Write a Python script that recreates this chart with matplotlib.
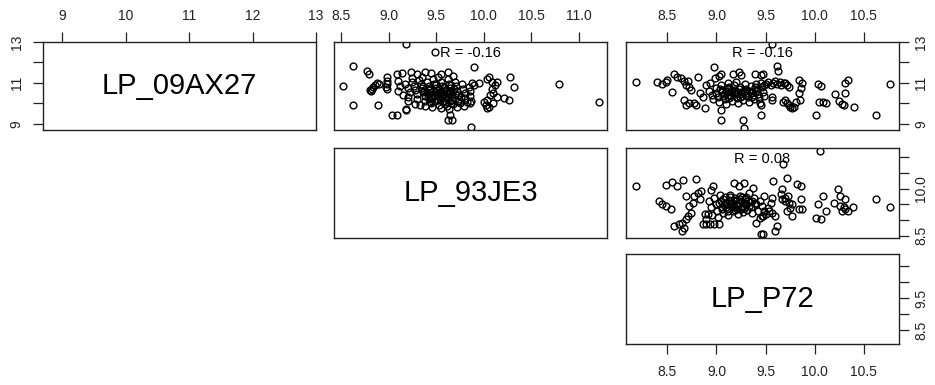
import numpy as np
import matplotlib.pyplot as plt

plt.rcParams['font.family'] = ['Liberation Sans', 'DejaVu Sans']

# variable names on the diagonal
var_names = ['LP_09AX27', 'LP_93JE3', 'LP_P72']
r_labels = ['R = -0.16', 'R = -0.16', 'R = 0.08']

# x = LP_93JE3, y = LP_09AX27
pts_93_09 = [
    (9.18, 12.90), (9.49, 12.52), (8.63, 11.82), (8.77, 11.59), (8.79, 11.42), (8.52, 10.86),
    (8.63, 9.92), (8.89, 9.92), (8.88, 11.01), (8.86, 10.90), (8.84, 10.82), (8.83, 10.72),
    (8.82, 10.62), (8.90, 10.95), (8.80, 10.66), (8.98, 11.30), (8.98, 11.11), (8.98, 10.93),
    (8.98, 10.70), (8.97, 10.82), (9.04, 9.43), (9.09, 9.43), (9.18, 9.71), (9.18, 9.66),
    (9.09, 11.46), (9.14, 11.50), (9.23, 11.55), (9.30, 11.46), (9.38, 11.55), (9.45, 11.48),
    (9.55, 11.44), (9.62, 11.55), (9.68, 11.35), (9.52, 11.30), (9.35, 11.30), (9.25, 11.25),
    (9.10, 11.10), (9.12, 10.85), (9.10, 10.60), (9.15, 10.40), (9.17, 10.95), (9.20, 10.75),
    (9.22, 10.55), (9.20, 10.30), (9.25, 11.05), (9.27, 10.85), (9.28, 10.65), (9.30, 10.45),
    (9.30, 10.20), (9.32, 11.15), (9.34, 10.95), (9.35, 10.75), (9.36, 10.55), (9.38, 10.35),
    (9.38, 10.10), (9.40, 11.05), (9.42, 10.85), (9.42, 10.65), (9.44, 10.45), (9.45, 10.25),
    (9.45, 10.00), (9.47, 11.20), (9.48, 10.95), (9.50, 10.75), (9.50, 10.55), (9.52, 10.35),
    (9.52, 10.15), (9.53, 9.90), (9.55, 11.05), (9.56, 10.85), (9.57, 10.65), (9.58, 10.45),
    (9.59, 10.25), (9.60, 10.05), (9.61, 9.85), (9.62, 11.20), (9.63, 10.95), (9.64, 10.75),
    (9.65, 10.55), (9.66, 10.35), (9.67, 10.15), (9.68, 9.95), (9.70, 11.05), (9.71, 10.85),
    (9.72, 10.60), (9.73, 10.40), (9.74, 10.20), (9.75, 10.00), (9.77, 10.95), (9.78, 10.70),
    (9.80, 10.50), (9.80, 10.25), (9.82, 10.05), (9.84, 10.80), (9.85, 10.60), (9.86, 10.35),
    (9.40, 10.55), (9.47, 10.60), (9.53, 10.50), (9.60, 10.62), (9.48, 10.40), (9.56, 10.30),
    (9.63, 10.45), (9.42, 10.20), (9.58, 10.82), (9.66, 10.90), (9.36, 10.85), (9.50, 10.95),
    (9.70, 10.45), (9.76, 10.30), (9.44, 10.70), (9.20, 10.10), (9.28, 9.98), (9.38, 9.85),
    (9.46, 9.80), (9.55, 9.76), (9.63, 9.72), (9.72, 9.80), (9.79, 9.86), (9.33, 9.90),
    (9.46, 10.35), (9.54, 10.22), (9.61, 10.38), (9.68, 10.28), (9.49, 10.12), (9.57, 10.05),
    (9.64, 10.12), (9.41, 10.45), (9.55, 10.62), (9.62, 10.52), (9.69, 10.68), (9.51, 10.45),
    (9.43, 10.08), (9.59, 9.95), (9.66, 10.02), (9.73, 10.10), (9.37, 10.62), (9.53, 10.70),
    (9.65, 9.43), (9.62, 9.19), (9.67, 9.19), (9.87, 8.83), (9.90, 11.76), (9.88, 11.00),
    (9.90, 10.90), (9.95, 11.02), (9.87, 10.10), (10.05, 11.30), (10.03, 11.17), (10.09, 11.06),
    (10.14, 11.06), (10.12, 10.89), (10.28, 11.27), (10.32, 10.81), (10.09, 10.68), (10.10, 10.49),
    (10.07, 10.41), (10.14, 10.33), (10.21, 10.24), (10.26, 10.16), (10.03, 10.16), (10.00, 10.08),
    (10.02, 9.92), (10.05, 9.84), (10.10, 10.00), (10.03, 9.76), (9.86, 10.00), (10.79, 10.94),
    (11.21, 10.05),
]

# x = LP_P72, y = LP_09AX27
pts_p72_09 = [
    (8.18, 11.03), (8.40, 11.03), (8.45, 10.93), (8.49, 11.06), (8.50, 11.14), (8.55, 10.54),
    (8.57, 11.42), (8.60, 11.30), (8.64, 11.22), (8.67, 11.11), (8.71, 11.11), (8.69, 10.90),
    (8.72, 10.81), (8.74, 10.65), (8.81, 11.27), (8.67, 10.16), (8.69, 9.92), (8.72, 10.00),
    (8.77, 10.00), (8.79, 9.92), (8.83, 10.49), (8.86, 10.33), (8.88, 9.76), (8.89, 10.90),
    (8.93, 10.98), (8.98, 11.79), (9.05, 11.46), (9.03, 11.33), (8.99, 11.22), (9.05, 9.68),
    (9.05, 9.19), (9.27, 9.19), (9.28, 8.78), (9.17, 11.46), (9.23, 11.55), (9.25, 11.38),
    (9.20, 11.05), (9.39, 11.46), (9.45, 11.40), (8.92, 10.60), (8.95, 10.40), (8.97, 10.20),
    (9.00, 10.75), (9.00, 10.50), (9.02, 10.30), (9.03, 10.05), (9.05, 10.90), (9.06, 10.65),
    (9.08, 10.45), (9.09, 10.20), (9.10, 9.95), (9.12, 11.00), (9.13, 10.78), (9.14, 10.55),
    (9.15, 10.35), (9.16, 10.12), (9.18, 10.90), (9.19, 10.65), (9.20, 10.45), (9.21, 10.25),
    (9.22, 10.00), (9.24, 10.80), (9.25, 10.58), (9.26, 10.38), (9.27, 10.15), (9.29, 10.95),
    (9.30, 10.70), (9.31, 10.50), (9.32, 10.30), (9.33, 10.05), (9.35, 10.85), (9.36, 10.60),
    (9.37, 10.40), (9.38, 10.20), (9.40, 10.95), (9.41, 10.70), (9.42, 10.48), (9.43, 10.25),
    (9.44, 10.02), (9.46, 10.80), (9.47, 10.55), (9.48, 10.35), (9.10, 10.60), (9.18, 10.50),
    (9.27, 10.55), (9.12, 10.40), (9.23, 10.70), (9.33, 10.60), (9.06, 10.55), (9.40, 10.60),
    (9.04, 10.70), (9.11, 10.75), (9.16, 10.62), (9.21, 10.55), (9.29, 10.62), (9.35, 10.50),
    (9.39, 10.78), (9.07, 10.35), (9.13, 10.28), (9.24, 10.32), (9.30, 10.42), (9.36, 10.30),
    (9.57, 12.90), (9.62, 11.82), (9.63, 11.59), (9.47, 11.42), (9.45, 11.00), (9.50, 10.95),
    (9.55, 10.90), (9.60, 11.10), (9.65, 11.05), (9.69, 10.98), (9.72, 10.90), (9.74, 10.82),
    (9.52, 11.05), (9.58, 10.98), (9.48, 10.92), (9.62, 10.95), (9.66, 10.92), (9.70, 11.02),
    (9.57, 10.33), (9.57, 10.16), (9.45, 9.92), (9.45, 9.43),
    (9.70, 10.16), (9.72, 10.00), (9.74, 9.92), (9.75, 9.84), (9.77, 9.76), (9.79, 9.84),
    (9.81, 10.08), (9.85, 10.16), (9.68, 10.05), (9.84, 11.14), (9.87, 10.98), (9.86, 10.73),
    (9.84, 10.49), (10.03, 10.94), (10.06, 10.86), (10.01, 9.43), (10.04, 10.05), (10.08, 10.05),
    (10.11, 10.00), (10.21, 10.46), (10.34, 11.14), (10.31, 10.98), (10.31, 10.49), (10.25, 10.13),
    (10.28, 9.97), (10.30, 9.92), (10.40, 9.84), (10.62, 9.43), (10.77, 10.93),
]

# x = LP_P72, y = LP_93JE3
pts_p72_93 = [
    (8.18, 10.08), (8.42, 9.60), (8.45, 9.50), (8.49, 9.44), (8.54, 9.34), (8.49, 10.10),
    (8.55, 10.21), (8.60, 10.08), (8.66, 10.26), (8.69, 9.76), (8.72, 9.44), (8.76, 9.55),
    (8.77, 9.76), (8.79, 10.30), (8.81, 9.87), (8.84, 9.92), (8.83, 9.66), (8.57, 8.81),
    (8.62, 8.86), (8.65, 8.91), (8.69, 9.02), (8.65, 8.65), (8.67, 8.76), (8.71, 9.13),
    (8.74, 9.23), (8.86, 8.86), (8.89, 8.86), (8.93, 8.86), (8.98, 8.86), (9.03, 8.86),
    (8.88, 9.18), (8.91, 9.18), (8.89, 9.02), (8.96, 10.08), (8.94, 9.97), (8.92, 9.60),
    (8.94, 9.40), (8.95, 9.15), (8.98, 9.70), (9.00, 9.50), (9.01, 9.30), (9.02, 9.08),
    (9.04, 9.80), (9.05, 9.62), (9.06, 9.42), (9.07, 9.22), (9.09, 9.72), (9.10, 9.55),
    (9.11, 9.35), (9.12, 9.15), (9.14, 9.80), (9.15, 9.62), (9.16, 9.45), (9.17, 9.28),
    (9.19, 9.70), (9.20, 9.52), (9.21, 9.36), (9.22, 9.20), (9.24, 9.78), (9.25, 9.60),
    (9.26, 9.42), (9.27, 9.25), (9.29, 9.68), (9.30, 9.50), (9.31, 9.33), (9.33, 9.85),
    (9.34, 9.58), (9.35, 9.40), (9.36, 9.22), (9.38, 9.70), (9.40, 9.50), (9.42, 9.30),
    (9.44, 9.62), (9.46, 9.45), (9.48, 9.75), (9.08, 9.48), (9.13, 9.65), (9.18, 9.40),
    (9.23, 9.55), (9.28, 9.38), (9.12, 9.30), (9.20, 9.65), (9.26, 9.72), (9.32, 9.62),
    (9.16, 9.55), (9.03, 9.55), (9.07, 9.68), (9.10, 9.42), (9.14, 9.52), (9.18, 9.60),
    (9.22, 9.45), (9.24, 9.66), (9.28, 9.55), (9.30, 9.72), (9.33, 9.45), (9.36, 9.62),
    (9.19, 9.32), (9.25, 9.35), (9.14, 9.72), (9.06, 9.35), (9.39, 9.55),
    (9.18, 10.19), (9.23, 10.08), (9.28, 10.19), (9.37, 10.03), (9.40, 8.91),
    (9.44, 9.07), (9.47, 9.13), (9.47, 8.54), (10.05, 11.20), (9.68, 10.77), (9.58, 10.24),
    (9.72, 10.33), (9.82, 10.14), (9.86, 10.08), (9.67, 9.98), (9.66, 9.82), (9.67, 9.66),
    (9.70, 9.60), (9.74, 9.55), (9.77, 9.50), (9.75, 9.39), (9.72, 9.29), (9.70, 9.70),
    (9.73, 9.75), (9.86, 9.66), (9.87, 9.34), (9.84, 9.34), (9.77, 9.13), (9.57, 9.71),
    (9.55, 9.55), (9.52, 9.39), (9.48, 9.29), (9.46, 9.13), (9.57, 9.23), (9.60, 9.13),
    (9.62, 8.81), (9.60, 8.65), (9.50, 9.20), (9.53, 9.30), (9.45, 8.54), (10.03, 9.50),
    (10.08, 9.76), (10.01, 9.07), (10.06, 9.02), (10.11, 9.29), (10.20, 9.53), (10.24, 9.98),
    (10.26, 9.77), (10.31, 9.66), (10.26, 9.45), (10.30, 9.40), (10.31, 9.34), (10.28, 9.29),
    (10.34, 9.29), (10.39, 9.40), (10.62, 9.68), (10.77, 9.41),
]

# axis limits and ticks for each variable
limits = {'LP_09AX27': (8.70, 13.0), 'LP_93JE3': (8.426, 11.295), 'LP_P72': (8.08, 10.857)}
ticks = {
    'LP_09AX27': [9, 10, 11, 12, 13],
    'LP_93JE3': [8.5, 9.0, 9.5, 10.0, 10.5, 11.0],
    'LP_P72': [8.5, 9.0, 9.5, 10.0, 10.5],
}
y_shown = {'LP_09AX27': [9, 11, 13], 'LP_93JE3': [8.5, 10.0], 'LP_P72': [8.5, 9.5]}

W, H = 935, 385
cols = [(43, 316), (334, 607), (626, 899)]
rows = [(42, 130), (148, 238), (254, 344)]

fig = plt.figure(figsize=(W / 100, H / 100), dpi=100)


def make_ax(r, c):
    l, rt = cols[c]
    t, b = rows[r]
    ax = fig.add_axes([l / W, 1 - b / H, (rt - l) / W, (b - t) / H])
    ax.set_xlim(limits[var_names[c]])
    ax.set_ylim(limits[var_names[r]])
    for s in ax.spines.values():
        s.set_linewidth(1.0)
        s.set_color('#222222')
    ax.set_xticks([])
    ax.set_yticks([])
    return ax


def fmt(v, decimals):
    return ('%.' + str(decimals) + 'f') % v


def set_x(ax, name, side, pad):
    tk = ticks[name]
    dec = 0 if name == 'LP_09AX27' else 1
    ax.set_xticks(tk)
    ax.set_xticklabels([fmt(v, dec) for v in tk])
    ax.xaxis.set_ticks_position(side)
    ax.tick_params(axis='x', direction='out', length=7, width=0.9, labelsize=10,
                   pad=pad, colors='#222222')


def set_y(ax, name, side, shown, pad):
    tk = ticks[name]
    dec = 0 if name == 'LP_09AX27' else 1
    ax.set_yticks(tk)
    ax.set_yticklabels([fmt(v, dec) if v in shown else '' for v in tk])
    ax.yaxis.set_ticks_position(side)
    ax.tick_params(axis='y', direction='out', length=7, width=0.9, labelsize=10,
                   pad=pad, labelrotation=90, colors='#222222')
    for lab in ax.get_yticklabels():
        lab.set_va('center')


# diagonal panels
for i, name in enumerate(var_names):
    ax = make_ax(i, i)
    ax.text(0.5, 0.5, name, transform=ax.transAxes, ha='center', va='center', fontsize=21)
    if i == 0:
        set_x(ax, name, 'top', 7)
        set_y(ax, name, 'left', y_shown[name], 7)
    if i == 2:
        set_x(ax, name, 'bottom', 8)
        set_y(ax, name, 'right', y_shown[name], 4)

# scatter panels
panels = [(0, 1, pts_93_09, r_labels[0]), (0, 2, pts_p72_09, r_labels[1]), (1, 2, pts_p72_93, r_labels[2])]
for r, c, pts, lab in panels:
    ax = make_ax(r, c)
    xs, ys = np.array(pts).T
    ax.plot(xs, ys, 'o', mfc='none', mec='black', ms=4.9, mew=1.0)
    ax.text(0.5, 0.88, lab, transform=ax.transAxes, ha='center', va='center', fontsize=10.5)
    if r == 0:
        set_x(ax, var_names[c], 'top', 7)
    if c == 2:
        set_y(ax, var_names[r], 'right', y_shown[var_names[r]], 4)

fig.savefig('out.png', dpi=100)
